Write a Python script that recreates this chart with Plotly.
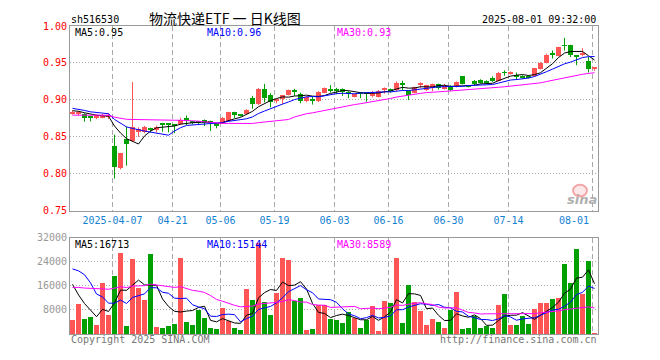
import numpy as np
import plotly.graph_objects as go

# ---------------- data ----------------
tick_idx = [7, 17, 25, 34, 44, 53, 63, 73, 87]
tick_text = ["2025-04-07", "04-21", "05-06", "05-19", "06-03", "06-16", "06-30", "07-14", "08-01"]

open_ = [0.881, 0.881, 0.881, 0.878, 0.875, 0.876, 0.877, 0.8375, 0.8075, 0.847,
         0.844, 0.857, 0.856, 0.8615, 0.8595, 0.8672, 0.867, 0.8668, 0.867, 0.8757,
         0.8702, 0.870, 0.8726, 0.8713, 0.8678, 0.868, 0.8713, 0.8836, 0.8795, 0.8814,
         0.9024, 0.8945, 0.9151, 0.9063, 0.899, 0.901, 0.9063, 0.9134, 0.9085, 0.898,
         0.900, 0.898, 0.9099, 0.9142, 0.9138, 0.9151, 0.9088, 0.9046, 0.9088, 0.9087,
         0.9055, 0.9046, 0.9134, 0.9134, 0.9134, 0.921, 0.912, 0.9099, 0.9210, 0.9138,
         0.9164, 0.9217, 0.9147, 0.9195, 0.9186, 0.9318, 0.9185, 0.9252, 0.927, 0.9245,
         0.9296, 0.9252, 0.937, 0.936, 0.934, 0.933, 0.933, 0.9318, 0.9418, 0.9506,
         0.9615, 0.9594, 0.9737, 0.9743, 0.959, 0.9603, 0.9528, 0.9419]
high = [0.886, 0.885, 0.882, 0.879, 0.880, 0.881, 0.882, 0.853, 0.8285, 0.864,
        0.9243, 0.863, 0.865, 0.8625, 0.865, 0.8675, 0.8675, 0.867, 0.8757, 0.879,
        0.8715, 0.871, 0.8735, 0.872, 0.868, 0.877, 0.884, 0.884, 0.881, 0.8875,
        0.9055, 0.916, 0.9217, 0.909, 0.902, 0.9068, 0.914, 0.915, 0.9099, 0.905,
        0.904, 0.912, 0.9168, 0.920, 0.9164, 0.9155, 0.912, 0.9085, 0.9095, 0.910,
        0.912, 0.9134, 0.9168, 0.9155, 0.925, 0.926, 0.913, 0.918, 0.924, 0.9205,
        0.922, 0.922, 0.9217, 0.920, 0.925, 0.9325, 0.919, 0.927, 0.928, 0.9265,
        0.9318, 0.938, 0.940, 0.9385, 0.937, 0.9335, 0.9335, 0.943, 0.951, 0.9625,
        0.967, 0.972, 0.984, 0.9745, 0.960, 0.970, 0.958, 0.9445]
low = [0.880, 0.879, 0.8705, 0.871, 0.874, 0.875, 0.874, 0.7935, 0.806, 0.811,
       0.843, 0.850, 0.855, 0.856, 0.856, 0.857, 0.856, 0.855, 0.866, 0.866,
       0.867, 0.866, 0.8647, 0.858, 0.8616, 0.8675, 0.871, 0.8757, 0.8775, 0.881,
       0.888, 0.893, 0.8967, 0.890, 0.8954, 0.8945, 0.906, 0.9055, 0.8954, 0.897,
       0.8937, 0.897, 0.909, 0.910, 0.9077, 0.9055, 0.9024, 0.9035, 0.9024, 0.8976,
       0.9035, 0.9033, 0.9085, 0.910, 0.912, 0.9134, 0.900, 0.909, 0.9164, 0.912,
       0.912, 0.914, 0.914, 0.912, 0.917, 0.921, 0.917, 0.920, 0.922, 0.9235,
       0.9243, 0.925, 0.9327, 0.9343, 0.927, 0.929, 0.929, 0.931, 0.941, 0.9494,
       0.956, 0.959, 0.9668, 0.958, 0.947, 0.959, 0.937, 0.9393]
close = [0.884, 0.883, 0.876, 0.875, 0.879, 0.880, 0.880, 0.809, 0.828, 0.841,
         0.864, 0.860, 0.863, 0.8605, 0.864, 0.8668, 0.8665, 0.866, 0.8725, 0.8713,
         0.8695, 0.869, 0.869, 0.869, 0.8647, 0.8757, 0.8836, 0.879, 0.879, 0.8866,
         0.8945, 0.9151, 0.9024, 0.8967, 0.9005, 0.906, 0.9129, 0.9103, 0.8989, 0.904,
         0.8995, 0.9107, 0.9164, 0.9134, 0.913, 0.9112, 0.9085, 0.9077, 0.9085, 0.9083,
         0.9099, 0.9121, 0.9164, 0.913, 0.923, 0.9205, 0.9068, 0.9173, 0.9217, 0.920,
         0.9217, 0.9164, 0.9195, 0.914, 0.9239, 0.9217, 0.918, 0.9217, 0.923, 0.924,
         0.926, 0.9362, 0.9365, 0.938, 0.9305, 0.9305, 0.9296, 0.9427, 0.9506, 0.9611,
         0.961, 0.9713, 0.973, 0.9611, 0.9589, 0.9637, 0.9419, 0.944]
volume = [4800, 9920, 5120, 5760, 3200, 16960, 6400, 19520, 26880, 2880,
          24960, 15360, 11520, 26560, 2560, 2240, 2880, 3520, 25280, 4160,
          3200, 8000, 5440, 1920, 1600, 8640, 4270, 1920, 1280, 15040,
          11520, 30400, 10560, 6400, 13550, 25390, 24640, 11200, 12160, 1280,
          1600, 9600, 9600, 5120, 4800, 3840, 7360, 5440, 2240, 4800,
          9280, 960, 11200, 10240, 25390, 3840, 16320, 10880, 7680, 3200,
          5120, 4160, 2240, 8000, 14080, 1600, 1920, 6080, 1920, 2880,
          1920, 9600, 13440, 3200, 3200, 6080, 3520, 8320, 10240, 10240,
          11840, 12160, 23360, 16960, 28480, 13440, 24320, 320]

# estimated sessions before the visible window (needed for the moving averages)
close_before = [0.880, 0.878, 0.876, 0.879, 0.882, 0.880,
                0.890, 0.880, 0.875, 0.870, 0.868, 0.866,
                0.864, 0.868, 0.870, 0.872, 0.870, 0.874, 0.876, 0.878,
                0.892, 0.895, 0.894, 0.890, 0.888, 0.887, 0.886, 0.884, 0.886]
volume_before = [9000, 12000, 8500, 11000, 14000, 10000, 9500, 12500, 11000, 10500,
                 13000, 9000, 12000, 10500, 11500, 10000, 11700, 18000, 22000, 21900,
                 16400, 18100, 32800, 40200, 26500, 27400, 19500, 16400, 14400]

price_ma_labels = ["MA5:0.95", "MA10:0.96", "MA30:0.93"]
volume_ma_labels = ["MA5:16713", "MA10:15144", "MA30:8589"]

# ---------------- helpers ----------------
RED = "#ff5555"
GREEN = "#00a000"
MONO = "DejaVu Sans Mono"
TICK_BLUE = "#1482d2"

# the page body adds an 8px offset; lay the figure out so that the plot lands
# at page pixels x 70..598, y 20..340
BODY = 8
FIG_W, FIG_H = 660 - 2 * BODY, 360 - 2 * BODY
PLOT_L, PLOT_R, PLOT_T, PLOT_B = 70, 598, 20, 340


def moving_average(before, series, n):
    s = np.array(list(before) + list(series), dtype=float)
    out = np.convolve(s, np.ones(n) / n, mode="valid")
    return out[-len(series):]


n = len(close)
x = np.arange(n)
o = np.array(open_)
c = np.array(close)
up = c >= o
colors = [RED if u else GREEN for u in up]
body_base = np.minimum(o, c)
body_h = np.maximum(np.abs(c - o), 0.0012)

fig = go.Figure()

# wicks
for flag, col in ((True, RED), (False, GREEN)):
    wx, wy = [], []
    for i in range(n):
        if bool(up[i]) == flag:
            wx += [x[i], x[i], None]
            wy += [low[i], high[i], None]
    fig.add_trace(go.Scatter(x=wx, y=wy, mode="lines", line=dict(color=col, width=1),
                             xaxis="x", yaxis="y", hoverinfo="skip"))

# bodies
fig.add_trace(go.Bar(x=x, y=body_h, base=body_base, width=0.8,
                     marker=dict(color=colors, line=dict(width=0)),
                     xaxis="x", yaxis="y"))

# price MAs
for per, col in ((5, "#000000"), (10, "#0000ff"), (30, "#ff00ff")):
    fig.add_trace(go.Scatter(x=x, y=moving_average(close_before, close, per), mode="lines",
                             line=dict(color=col, width=1), xaxis="x", yaxis="y"))

# volume bars
fig.add_trace(go.Bar(x=x, y=volume, width=0.8,
                     marker=dict(color=colors, line=dict(width=0)),
                     xaxis="x2", yaxis="y2"))
for per, col in ((5, "#000000"), (10, "#0000ff"), (30, "#ff00ff")):
    fig.add_trace(go.Scatter(x=x, y=moving_average(volume_before, volume, per), mode="lines",
                             line=dict(color=col, width=1), xaxis="x2", yaxis="y2"))

xr = [-0.42, n - 0.42]
grid_x = [t - 0.33 for t in tick_idx]
common_x = dict(range=xr, tickvals=grid_x, showgrid=True, gridcolor="#aaaaaa",
                griddash="5px,3px", gridwidth=1, showline=True, linecolor="#999999",
                linewidth=1, mirror=True, zeroline=False, ticks="")

# the last date label is pulled left so it stays inside the plot (as in the source)
shown_tick_text = tick_text[:-1] + [""]

fig.update_layout(
    width=FIG_W, height=FIG_H,
    margin=dict(l=PLOT_L - BODY, r=FIG_W - (PLOT_R - BODY), t=PLOT_T - BODY,
                b=FIG_H - (PLOT_B - BODY), pad=0),
    paper_bgcolor="white", plot_bgcolor="white",
    showlegend=False, barmode="overlay", bargap=0,
    xaxis=dict(domain=[0, 1], anchor="y", ticktext=shown_tick_text,
               tickfont=dict(family=MONO, size=10, color=TICK_BLUE), **common_x),
    xaxis2=dict(domain=[0, 1], anchor="y2", showticklabels=False, **common_x),
    yaxis=dict(domain=[0.4, 1], range=[0.75, 1.0],
               tickvals=[0.75, 0.80, 0.85, 0.90, 0.95, 1.00],
               ticktext=["0.75", "0.80", "0.85", "0.90", "0.95", "1.00"],
               tickfont=dict(family=MONO, size=10, color="#ff0000"),
               showgrid=True, gridcolor="#aaaaaa", griddash="1px,2px",
               showline=True, linecolor="#999999", mirror=True, zeroline=False, ticks=""),
    yaxis2=dict(domain=[0, 0.3125], range=[0, 32000],
                tickvals=[8000, 16000, 24000, 32000],
                ticktext=["8000", "16000", "24000", "32000"],
                tickfont=dict(family=MONO, size=10, color="#999999"),
                showgrid=True, gridcolor="#aaaaaa", griddash="1px,2px",
                showline=True, linecolor="#999999", mirror=True, zeroline=False, ticks=""),
)


def px2paper(px, py):
    return (px - PLOT_L) / float(PLOT_R - PLOT_L), (PLOT_B - py) / float(PLOT_B - PLOT_T)


def add_text(txt, px, py, anchor="left", color="#000000", size=10, family=MONO):
    ax, ay = px2paper(px, py)
    fig.add_annotation(text=txt, x=ax, y=ay, xref="paper", yref="paper",
                       xanchor=anchor, yanchor="middle", showarrow=False,
                       font=dict(family=family, size=size, color=color))


# last date label, right-aligned just inside the plot edge
fig.add_annotation(text=tick_text[-1], x=tick_idx[-1] - 0.33, y=0.75, xref="x", yref="y",
                   xanchor="right", yanchor="top", xshift=-2, yshift=-2, showarrow=False,
                   font=dict(family=MONO, size=10, color=TICK_BLUE))

add_text("sh516530", 69, 13)
add_text("物流快递ETF 一 日K线图", 224.5, 12, anchor="center", size=14,
         family="Noto Sans CJK SC")
add_text("2025-08-01 09:32:00", 598, 13, anchor="right")

ma_cols = ["#000000", "#0000ff", "#ff00ff"]
ma_x = [73, 205, 335]
for lab, col, mx in zip(price_ma_labels, ma_cols, ma_x):
    add_text(lab, mx, 27, color=col)
for lab, col, mx in zip(volume_ma_labels, ma_cols, ma_x):
    add_text(lab, mx, 247, color=col)

add_text("Copyright 2025 SINA.COM", 69, 346, color="#777777")
add_text("http://finance.sina.com.cn", 599, 346, anchor="right", color="#777777")

# sina watermark
x0, y0 = px2paper(573, 197)
x1, y1 = px2paper(587, 185)
fig.add_shape(type="circle", xref="paper", yref="paper", x0=x0, y0=y0, x1=x1, y1=y1,
              line=dict(color="#f5a5a5", width=2), fillcolor="rgba(245,165,165,0.25)")
add_text("<b><i>sina</i></b>", 582, 200, anchor="center", color="#b0b0b0", size=13,
         family="DejaVu Sans")

fig.write_html("out.html")
